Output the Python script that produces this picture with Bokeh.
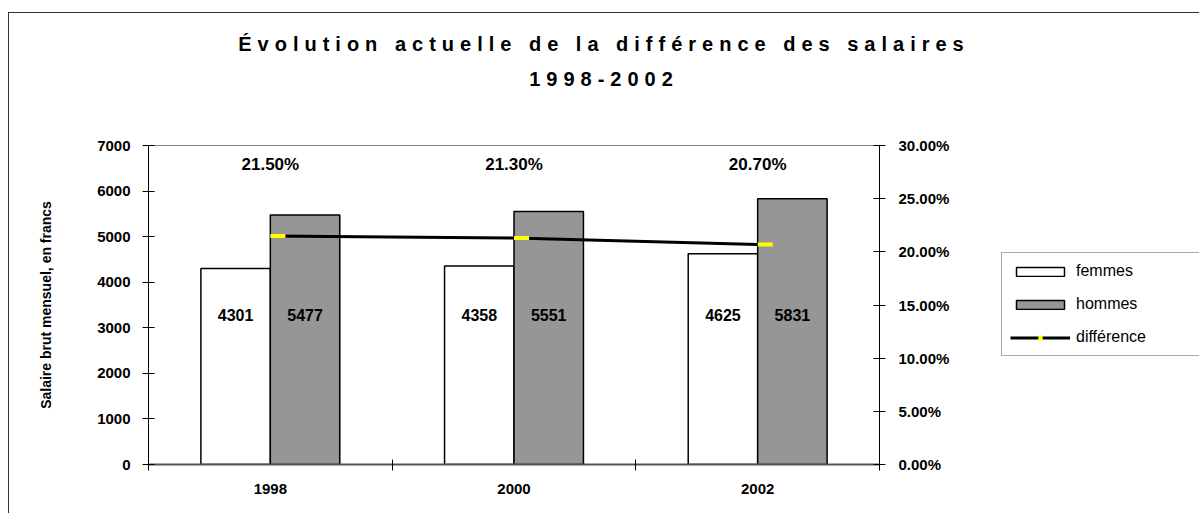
from bokeh.plotting import figure
from bokeh.layouts import column, row
from bokeh.models import (Range1d, LinearAxis, FixedTicker, NumeralTickFormatter,
                          Legend, LegendItem, Div)
from bokeh.core.properties import value
from bokeh.embed import file_html
from bokeh.resources import INLINE

# ---- data ----
years = ["1998", "2000", "2002"]
femmes = [4301, 4358, 4625]
hommes = [5477, 5551, 5831]
difference = [0.215, 0.213, 0.207]
left_ticks = [0, 1000, 2000, 3000, 4000, 5000, 6000, 7000]
right_ticks = [0.0, 0.05, 0.10, 0.15, 0.20, 0.25, 0.30]
title_lines = ["Évolution actuelle de la différence des salaires", "1998-2002"]
series_names = ["femmes", "hommes", "différence"]

FONT = "Liberation Sans"
BAR_W = 0.285
GRAY = "#969696"
YELLOW = "#FFFF00"

centers = [i + 0.5 for i in range(len(years))]
x_f = [c - BAR_W / 2 for c in centers]
x_h = [c + BAR_W / 2 for c in centers]
x_mark = [c + 0.031 for c in centers]

title_div = Div(
    text=('<div style="text-align:center; font-family:\'Liberation Sans\'; font-weight:bold; '
          'font-size:20px; letter-spacing:6px; line-height:35px; padding-top:14px; '
          'color:black; width:1190px;">'
          + title_lines[0] + "<br>" + title_lines[1] + "</div>"),
    width=1190, height=100, margin=0)

# ---------------- main chart ----------------
p = figure(width=981, height=400, x_range=Range1d(0, len(years)),
           y_range=Range1d(0, 7000), output_backend="svg", toolbar_location=None,
           min_border_left=139, min_border_right=111, min_border_top=32,
           min_border_bottom=49, margin=0)
p.grid.visible = False
p.outline_line_color = "#808080"
p.background_fill_color = "white"
p.border_fill_color = "white"
p.extra_y_ranges = {"pct": Range1d(0, 0.30)}

p.vbar(x=x_f, top=femmes, bottom=0, width=BAR_W, fill_color="white",
       line_color="black", line_width=1.5)
p.vbar(x=x_h, top=hommes, bottom=0, width=BAR_W, fill_color=GRAY,
       line_color="black", line_width=1.5)

LABEL_Y = 3270
p.text(x=x_f, y=[LABEL_Y] * len(years), text=[str(v) for v in femmes],
       text_align="center", text_baseline="middle", text_font=value(FONT),
       text_font_style="bold", text_font_size="16px", text_color="black")
p.text(x=x_h, y=[LABEL_Y] * len(years), text=[str(v) for v in hommes],
       text_align="center", text_baseline="middle", text_font=value(FONT),
       text_font_style="bold", text_font_size="16px", text_color="black")

p.line(x=centers, y=difference, y_range_name="pct", line_color="black", line_width=3)
p.scatter(x=x_mark, y=difference, marker="dash", size=15, y_range_name="pct",
          line_color=YELLOW, line_width=4)

PCT_Y = 6580
p.text(x=centers, y=[PCT_Y] * len(years), text=[f"{d * 100:.2f}%" for d in difference],
       text_align="center", text_baseline="middle", text_font=value(FONT),
       text_font_style="bold", text_font_size="17px", text_color="black")

xa = p.xaxis[0]
xa.ticker = FixedTicker(ticks=centers, minor_ticks=list(range(len(years) + 1)))
xa.major_label_overrides = {c: y for c, y in zip(centers, years)}
xa.major_tick_line_color = None
xa.major_tick_in = 0
xa.major_tick_out = 0
xa.minor_tick_line_color = "black"
xa.minor_tick_in = 5
xa.minor_tick_out = 6
xa.axis_line_color = "#555555"
xa.axis_line_width = 2
xa.major_label_standoff = 13
xa.major_label_text_font = FONT
xa.major_label_text_font_style = "bold"
xa.major_label_text_font_size = "15px"
xa.major_label_text_color = "black"

ya = p.yaxis[0]
ya.ticker = FixedTicker(ticks=left_ticks)
ya.minor_tick_line_color = None
ya.major_tick_in = 6
ya.major_tick_out = 6
ya.axis_line_color = "black"
ya.major_label_standoff = 12
ya.major_label_text_font = FONT
ya.major_label_text_font_style = "bold"
ya.major_label_text_font_size = "15px"
ya.major_label_text_color = "black"
ya.axis_label = "Salaire brut mensuel, en francs"
ya.axis_label_text_font = FONT
ya.axis_label_text_font_style = "bold"
ya.axis_label_text_font_size = "14px"
ya.axis_label_text_color = "black"
ya.axis_label_standoff = 40

ra = LinearAxis(y_range_name="pct", ticker=FixedTicker(ticks=right_ticks),
                formatter=NumeralTickFormatter(format="0.00%"))
ra.minor_tick_line_color = None
ra.major_tick_in = 6
ra.major_tick_out = 6
ra.axis_line_color = "black"
ra.major_label_standoff = 13
ra.major_label_text_font = FONT
ra.major_label_text_font_style = "bold"
ra.major_label_text_font_size = "15px"
ra.major_label_text_color = "black"
p.add_layout(ra, "right")

# ---------------- legend panel ----------------
lg = figure(width=209, height=400, x_range=Range1d(0, len(years)), y_range=Range1d(0, 7000),
            output_backend="svg", toolbar_location=None, min_border=0, margin=0)
lg.axis.visible = False
lg.grid.visible = False
lg.outline_line_color = None
lg.border_fill_color = "white"
lg.background_fill_color = "white"
lf = lg.vbar(x=x_f, top=femmes, width=BAR_W, fill_color="white", line_color="black",
             line_width=1.5, visible=False)
lh = lg.vbar(x=x_h, top=hommes, width=BAR_W, fill_color=GRAY, line_color="black",
             line_width=1.5, visible=False)
ll = lg.line(x=centers, y=difference, line_color="black", line_width=3, visible=False)
lm = lg.scatter(x=x_mark, y=difference, marker="dash", size=15, line_color=YELLOW,
                line_width=5, visible=False)

legend = Legend(items=[LegendItem(label=series_names[0], renderers=[lf]),
                       LegendItem(label=series_names[1], renderers=[lh]),
                       LegendItem(label=series_names[2], renderers=[ll, lm])],
                location=(11, 108), orientation="vertical",
                border_line_color="#555555", border_line_width=1,
                background_fill_color="white", background_fill_alpha=1,
                inactive_fill_alpha=0,
                glyph_width=60, glyph_height=11, label_standoff=6, padding=8,
                spacing=13, label_height=20, label_width=150, margin=0,
                label_text_font=FONT, label_text_font_size="16px",
                label_text_color="black")
lg.add_layout(legend)

layout = column(title_div, row(p, lg, spacing=0), spacing=0,
                styles={"margin-left": "8px", "margin-top": "12px",
                        "border-left": "1px solid #333333",
                        "border-top": "1px solid #333333"})

open("out.html", "w").write(file_html(layout, INLINE))
